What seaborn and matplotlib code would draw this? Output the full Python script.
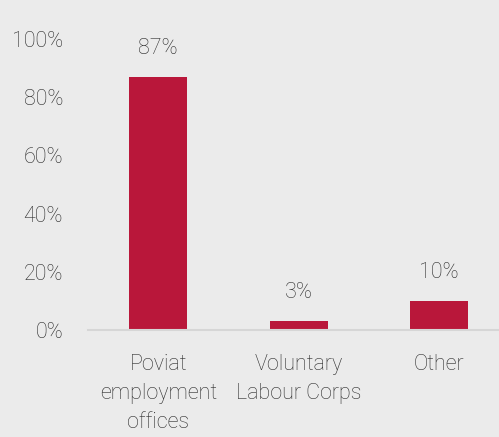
import numpy as np
import pandas as pd
import seaborn as sns
import matplotlib.pyplot as plt
from matplotlib.ticker import PercentFormatter, FixedLocator

# ---------- Data ----------
categories = ["Poviat\nemployment\noffices", "Voluntary\nLabour Corps", "Other"]
shares = [0.87, 0.03, 0.10]
y_ticks = [0.0, 0.2, 0.4, 0.6, 0.8, 1.0]

bg = "#ebebeb"
bar_color = "#b9173a"
text_color = "#2b2b2b"
axis_color = "#d6d6d6"

sns.set_theme(style="white")
plt.rcParams['font.family'] = ['Roboto', 'DejaVu Sans']
plt.rcParams['font.weight'] = 'light'

df = pd.DataFrame({"cat": categories, "share": shares})

fig = plt.figure(figsize=(4.99, 4.37), dpi=100, facecolor=bg)
ax = fig.add_axes([0.1764, 0.2449, 0.8447, 0.666])
ax.set_facecolor(bg)

sns.barplot(data=df, x="cat", y="share", color=bar_color, width=0.41,
            saturation=1, linewidth=0, ax=ax)

ax.set_xlim(-0.5, 2.5)
ax.set_ylim(0, 1)
ax.set_xlabel("")
ax.set_ylabel("")

# y axis
ax.yaxis.set_major_locator(FixedLocator(y_ticks))
ax.yaxis.set_major_formatter(PercentFormatter(1.0, decimals=0))
ax.tick_params(axis='y', length=0, pad=18, labelsize=15.5, labelcolor=text_color)

# x axis: labels at centres, ticks at boundaries
ax.tick_params(axis='x', which='major', length=0, pad=17, labelsize=15.5,
               labelcolor=text_color)
ax.set_xticks(np.arange(-0.5, 2.5, 1.0), minor=True)
ax.tick_params(axis='x', which='minor', length=5, width=1.5, color=axis_color,
               direction='out')
for lbl in ax.get_xticklabels():
    lbl.set_linespacing(1.5)
    lbl.set_multialignment('center')

for side in ["top", "right", "left"]:
    ax.spines[side].set_visible(False)
ax.spines["bottom"].set_color(axis_color)
ax.spines["bottom"].set_linewidth(1.5)

# value labels
for i, v in enumerate(shares):
    ax.annotate(f"{v * 100:.0f}%", (i, v), xytext=(0, 13), textcoords="offset points",
                ha="center", va="bottom", fontsize=15.5, color=text_color,
                annotation_clip=False)

fig.savefig("out.png", dpi=100, facecolor=bg)
